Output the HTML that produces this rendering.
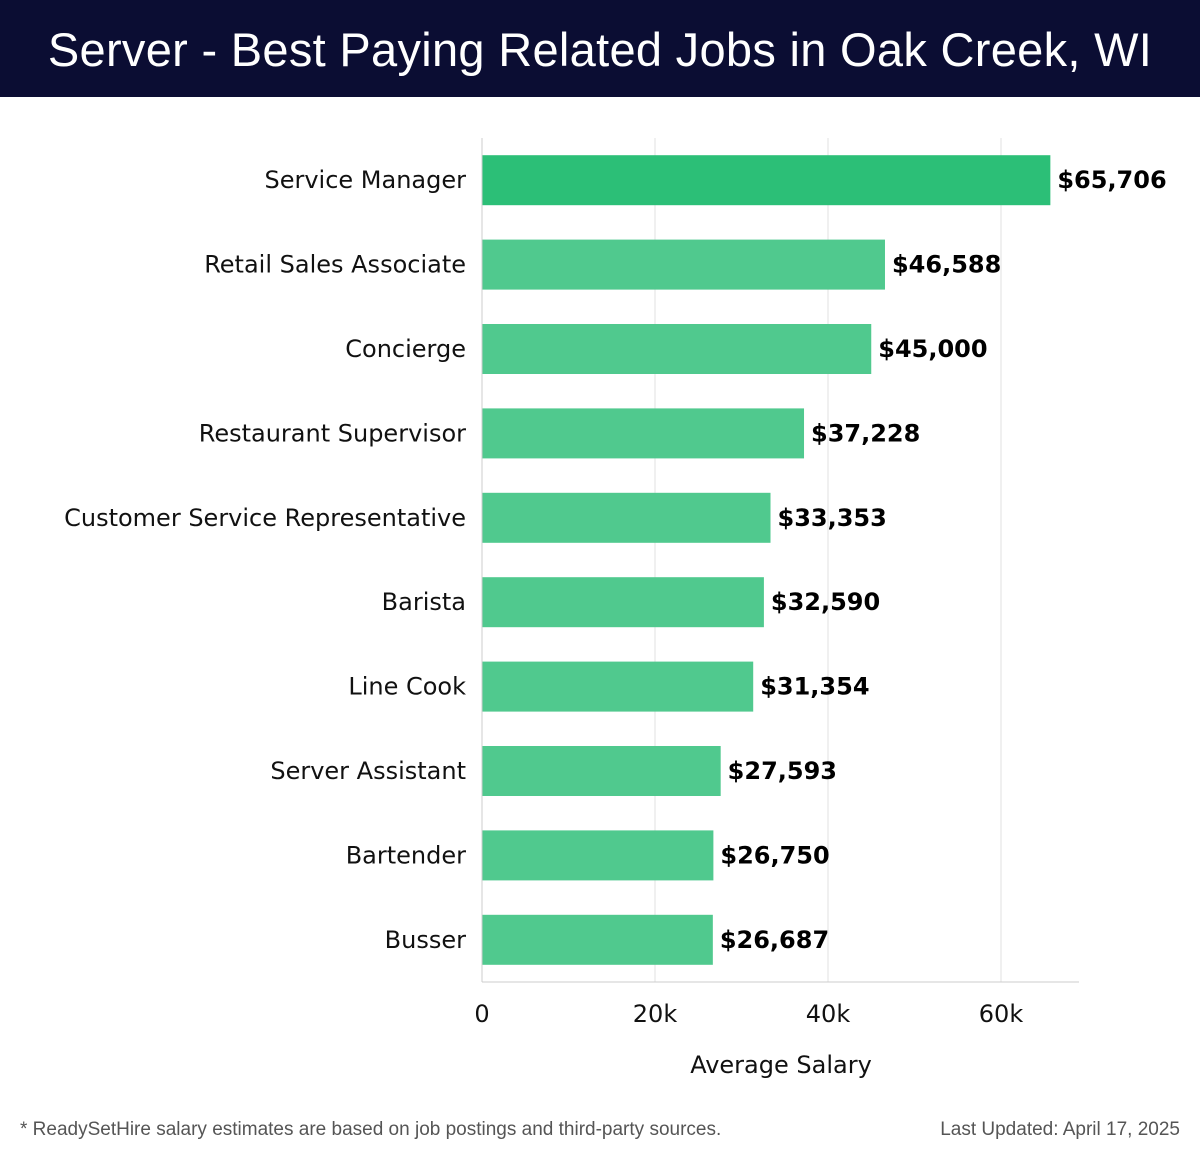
<!DOCTYPE html>
<html><head><meta charset="utf-8"><style>
body{margin:0;width:1200px;height:1158px;background:#fff;font-family:"Liberation Sans",sans-serif;position:relative;overflow:hidden}
#hdr{position:absolute;left:0;top:0;width:1200px;height:97px;background:#0b0d33;color:#fff;font-size:47px;text-align:center;line-height:100px;letter-spacing:0.3px}
.foot{position:absolute;top:1119px;font-size:19px;color:#555}
svg text{font-family:"DejaVu Sans",sans-serif}
</style></head><body>
<div id="hdr">Server - Best Paying Related Jobs in Oak Creek, WI</div>
<svg id="chart" width="1200" height="1158" style="position:absolute;left:0;top:0"></svg>
<div class="foot" style="left:20px">* ReadySetHire salary estimates are based on job postings and third-party sources.</div>
<div class="foot" style="right:20px">Last Updated: April 17, 2025</div>
<script>
const categories=["Service Manager","Retail Sales Associate","Concierge","Restaurant Supervisor","Customer Service Representative","Barista","Line Cook","Server Assistant","Bartender","Busser"];
const values=[65706,46588,45000,37228,33353,32590,31354,27593,26750,26687];
const ticks=[0,20000,40000,60000];
const tickLabels=["0","20k","40k","60k"];
const svg=document.getElementById('chart');
const NS='http://www.w3.org/2000/svg';
const x0=482,pxPer=173/20000,plotTop=138,plotBottom=982,band=(plotBottom-plotTop)/categories.length,barH=50;
const X=v=>x0+v*pxPer;
const Y=i=>plotTop+band*i+band/2;
function mk(t,a,txt){const e=document.createElementNS(NS,t);for(const k in a)e.setAttribute(k,a[k]);if(txt!=null)e.textContent=txt;svg.appendChild(e);return e;}
ticks.forEach((t,i)=>{
 if(i>0){const g=mk('line',{x1:X(t),x2:X(t),y1:plotTop,y2:plotBottom,stroke:'#e2e2e2','stroke-width':1});
 
 }
 const l=mk('text',{x:X(t),y:1022,'text-anchor':'middle','font-size':24,fill:'#111'},tickLabels[i]);
 
 
});
categories.forEach((c,i)=>{
 const y=Y(i);
 const b=mk('rect',{x:x0,y:y-barH/2,width:X(values[i])-x0,height:barH,fill:i==0?'#2cbf77':'#50c98e'});
 
 
 const l=mk('text',{x:466,y:y+8,'text-anchor':'end','font-size':24,fill:'#111'},c);
 
 
 const v=mk('text',{x:X(values[i])+7,y:y+8,'font-size':24,'font-weight':'bold',fill:'#000'},'$'+values[i].toLocaleString('en-US'));
 
 
});
const ya=mk('line',{x1:x0,x2:x0,y1:plotTop,y2:plotBottom,stroke:'#ccc','stroke-width':1});


const xa=mk('line',{x1:x0,x2:1079,y1:plotBottom,y2:plotBottom,stroke:'#ccc','stroke-width':1});


const at=mk('text',{x:781,y:1073,'text-anchor':'middle','font-size':24,fill:'#111'},'Average Salary');


</script>
</body></html>
